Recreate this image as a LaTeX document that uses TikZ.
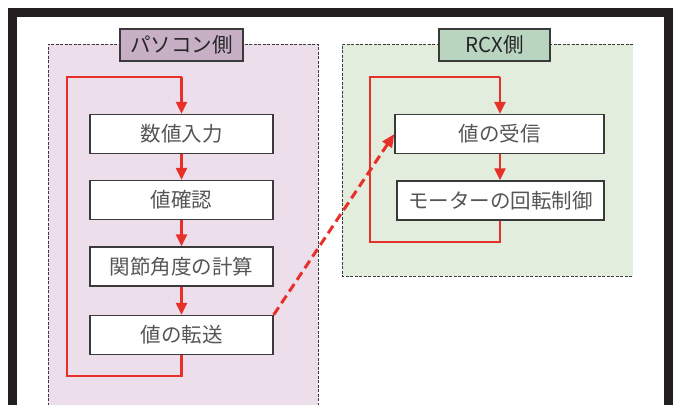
\documentclass[tikz,border=0pt]{standalone}
\usepackage{fontspec}
\newfontfamily\jp{Noto Sans CJK JP}
\usetikzlibrary{arrows.meta}
\definecolor{frameblk}{HTML}{231F20}
\definecolor{lfill}{HTML}{ECDFEB}
\definecolor{rfill}{HTML}{E3EDDD}
\definecolor{ltitle}{HTML}{C7B0C6}
\definecolor{rtitle}{HTML}{B9D5C0}
\definecolor{flowred}{HTML}{E8302A}
\definecolor{txtgray}{HTML}{555555}
\definecolor{bordgray}{HTML}{3A3A3A}
\tikzset{
  x=1pt, y=-1pt,
  stepbox/.style={draw=bordgray, line width=1.4pt, fill=white, minimum height=39pt,
    inner sep=0pt, text=txtgray, font=\jp\fontsize{20.5}{20.5}\selectfont},
  titlebox/.style={draw=bordgray, line width=1.4pt, minimum height=32pt, inner sep=0pt,
    text=black!85, font=\jp\fontsize{20.5}{20.5}\selectfont},
  panelline/.style={draw=bordgray, line width=0.9pt, dash pattern=on 3pt off 1.5pt},
  loopline/.style={draw=flowred, line width=2.4pt, line join=miter},
  flowarrow/.style={draw=flowred, line width=2.4pt, -{Triangle[length=12pt,width=11pt]}},
}
\begin{document}
\begin{tikzpicture}
\useasboundingbox (0,0) rectangle (676,404);
\begin{scope}
\clip (0,0) rectangle (676,404);
% panels
\fill[lfill] (48,44) rectangle (318,410);
\draw[panelline] (48,410) -- (48,44) -- (318,44) -- (318,410);
\fill[rfill] (342,44) rectangle (633,276);
\draw[panelline] (633,44) -- (342,44) -- (342,276) -- (633,276);
% frame
\draw[frameblk, line width=9pt, line join=miter] (12.5,410) -- (12.5,12.5) -- (668.5,12.5) -- (668.5,410);
\end{scope}

% titles
\node[titlebox, fill=ltitle, minimum width=123pt] (lt) at (181.5,45) {パソコン側};
\node[titlebox, fill=rtitle, minimum width=111pt] (rt) at (494.5,45) {RCX側};

% left boxes
\node[stepbox, minimum width=183pt] (b1) at (181.5,134) {数値入力};
\node[stepbox, minimum width=183pt] (b2) at (181.5,200) {値確認};
\node[stepbox, minimum width=183pt] (b3) at (181.5,266.5) {関節角度の計算};
\node[stepbox, minimum width=183pt] (b4) at (181.5,335) {値の転送};

% right boxes
\node[stepbox, minimum width=209pt] (r1) at (499.5,134) {値の受信};
\node[stepbox, minimum width=207pt] (r2) at (500.5,200.5) {モーターの回転制御};

% left loop
\coordinate (lbl) at (67,376);
\coordinate (ltl) at (67,77);
\draw[loopline] (b4.south) -- (b4.south |- lbl) -- (lbl) -- (ltl) -- (b1.north |- ltl);
\draw[flowarrow] (b1.north |- ltl) -- (b1.north);
\draw[flowarrow] (b1.south) -- (b2.north);
\draw[flowarrow] (b2.south) -- (b3.north);
\draw[flowarrow] (b3.south) -- (b4.north);

% right loop
\coordinate (rbl) at (370,242);
\coordinate (rtl) at (370,77);
\coordinate (rtop) at (500,77);
\draw[loopline] (r2.south -| rtop) -- (rtop |- rbl) -- (rbl) -- (rtl) -- (rtop);
\draw[flowarrow] (rtop) -- (rtop |- r1.north);
\draw[flowarrow] (rtop |- r1.south) -- (rtop |- r2.north);

% transfer
\draw[flowred, line width=3pt, dash pattern=on 9pt off 5pt, -{Triangle[length=13pt,width=11pt]}] (b4.north east) -- (r1.west);
\end{tikzpicture}
\end{document}
